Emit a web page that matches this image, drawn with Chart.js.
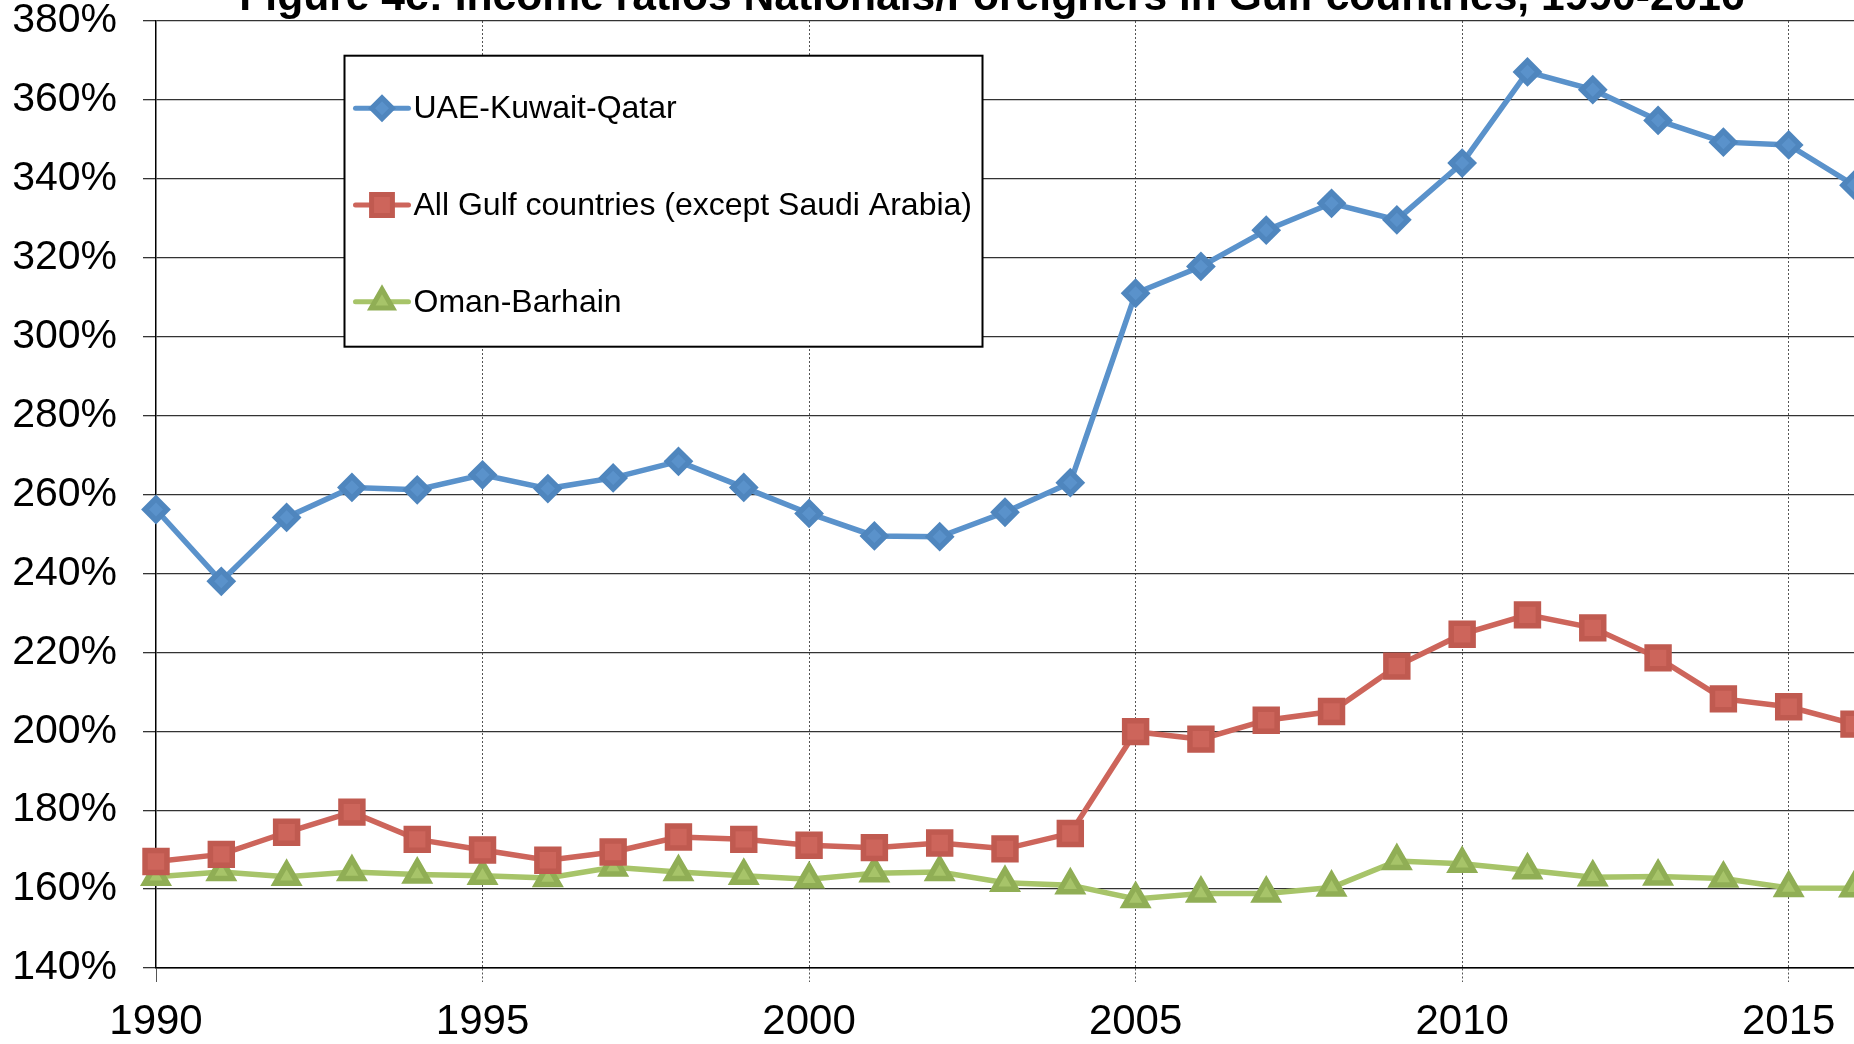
<!DOCTYPE html>
<html>
<head>
<meta charset="utf-8">
<script src="https://cdn.jsdelivr.net/npm/chart.js@4.4.0/dist/chart.umd.min.js"></script>
<style>
  html, body { margin: 0; padding: 0; background: #fff; overflow: hidden; }
  #chart { display: block; }
</style>
</head>
<body>
<canvas id="chart" width="1854" height="1044"></canvas>
<script>
// Data
const years = ['1990', '1991', '1992', '1993', '1994', '1995', '1996', '1997', '1998', '1999',
  '2000', '2001', '2002', '2003', '2004', '2005', '2006', '2007', '2008', '2009',
  '2010', '2011', '2012', '2013', '2014', '2015', '2016'];
const uaeKuwaitQatar = [256.2, 238.0, 254.2, 261.8, 261.2, 265.0, 261.5, 264.2, 268.4, 261.8,
  255.2, 249.5, 249.3, 255.5, 263.0, 311.0, 317.8, 327.0, 333.8, 329.6,
  344.0, 367.1, 362.6, 354.8, 349.3, 348.6, 338.4];
const allGulf = [167.0, 168.8, 174.4, 179.5, 172.6, 169.9, 167.3, 169.4, 173.2, 172.6,
  171.1, 170.5, 171.7, 170.2, 174.1, 199.9, 198.0, 202.8, 205.0, 216.5,
  224.6, 229.5, 226.2, 218.6, 208.2, 206.2, 201.8];
const omanBahrain = [163.1, 164.3, 163.1, 164.3, 163.7, 163.4, 162.8, 165.5, 164.3, 163.4,
  162.5, 164.0, 164.3, 161.6, 161.0, 157.5, 158.9, 158.9, 160.4, 167.1,
  166.4, 164.8, 163.0, 163.2, 162.7, 160.3, 160.2];
const yTicks = { min: 140, max: 380, step: 20 };
const titleText = 'Figure 4c: Income ratios Nationals/Foreigners in Gulf countries, 1990-2016';

const FONT = '"Liberation Sans", Arial, sans-serif';

// title (cut off at the top like the original) + boxed legend inside the plot
const boxLegend = {
  id: 'boxLegend',
  afterDraw(chart) {
    const ctx = chart.ctx;
    const a = chart.chartArea;
    ctx.save();
    ctx.fillStyle = '#000';
    ctx.font = 'bold 42.6px ' + FONT;
    ctx.textAlign = 'center';
    ctx.textBaseline = 'alphabetic';
    ctx.fillText(titleText, 992, 10);

    const x = a.left + 188.5, y = a.top + 34.7, w = 638, h = 291;
    ctx.fillStyle = '#fff';
    ctx.fillRect(x, y, w, h);
    ctx.lineWidth = 2;
    ctx.strokeStyle = '#000';
    ctx.strokeRect(x, y, w, h);

    chart.data.datasets.forEach((ds, i) => {
      const cy = y + 52.6 + i * 96.7;
      ctx.strokeStyle = ds.borderColor;
      ctx.lineWidth = 5;
      ctx.lineCap = 'round';
      ctx.beginPath();
      ctx.moveTo(x + 11, cy);
      ctx.lineTo(x + 64, cy);
      ctx.stroke();
      ctx.fillStyle = ds.pointBackgroundColor;
      ctx.strokeStyle = ds.pointBorderColor;
      Chart.helpers.drawPoint(ctx, {
        pointStyle: ds.pointStyle, radius: ds.pointRadius * 0.95, borderWidth: 1, rotation: 0
      }, x + 37.5, cy);
      ctx.fillStyle = '#000';
      ctx.font = '32px ' + FONT;
      ctx.textAlign = 'left';
      ctx.textBaseline = 'middle';
      ctx.fillText(ds.label, x + 69, cy + 1);
    });
    ctx.restore();
  }
};

const isFive = i => Number(years[i]) % 5 === 0;

new Chart(document.getElementById('chart'), {
  type: 'line',
  data: {
    labels: years,
    datasets: [{
      label: 'UAE-Kuwait-Qatar',
      data: uaeKuwaitQatar,
      borderColor: '#5A92CB',
      backgroundColor: '#5A92CB',
      pointBackgroundColor: '#5A92CB',
      pointBorderColor: '#4F86BE',
      pointStyle: 'rectRot',
      pointRadius: 11,
      borderWidth: 5.5,
    }, {
      label: 'All Gulf countries (except Saudi Arabia)',
      data: allGulf,
      borderColor: '#CD655B',
      backgroundColor: '#CD655B',
      pointBackgroundColor: '#CD655B',
      pointBorderColor: '#C05A50',
      pointStyle: 'rect',
      pointRadius: 15.5,
      borderWidth: 5.5,
    }, {
      label: 'Oman-Barhain',
      data: omanBahrain,
      borderColor: '#A7C469',
      backgroundColor: '#A7C469',
      pointBackgroundColor: '#A7C469',
      pointBorderColor: '#90AE55',
      pointStyle: 'triangle',
      pointRadius: 13,
      borderWidth: 5.5,
    }],
  },
  options: {
    responsive: false,
    animation: false,
    layout: { autoPadding: false, padding: { top: 21, right: 0, left: 0, bottom: 0 } },
    plugins: {
      legend: { display: false },
      title: { display: false },
      tooltip: { enabled: false },
    },
    elements: { line: { tension: 0 } },
    scales: {
      x: {
        type: 'category',
        offset: false,
        afterFit: s => { s.height = 76; s.paddingLeft = 0; s.paddingRight = 0; },
        grid: {
          color: c => (c.index > 0 && isFive(c.index)) ? '#555' : 'rgba(0,0,0,0)',
          lineWidth: 1,
          tickLength: 14,
          tickColor: c => isFive(c.index) ? '#555' : 'rgba(0,0,0,0)',
          tickBorderDash: c => c.index > 0 ? [2, 2] : [],
        },
        border: { display: true, color: '#000', width: 1.5, dash: [2, 2] },
        ticks: {
          autoSkip: false,
          maxRotation: 0,
          padding: 15,
          color: '#000',
          font: { family: FONT, size: 42 },
          callback: (v, i) => isFive(i) ? years[i] : '',
        },
      },
      y: {
        min: yTicks.min,
        max: yTicks.max,
        afterFit: s => { s.width = 156; s.paddingTop = 0; s.paddingBottom = 0; },
        grid: { color: '#333', lineWidth: 1.3, tickLength: 13, tickColor: '#333' },
        border: { display: true, color: '#000', width: 1.5 },
        ticks: {
          stepSize: yTicks.step,
          padding: 26,
          color: '#000',
          font: { family: FONT, size: 41, lineHeight: 1 },
          callback: v => v + '%',
        },
      },
    },
  },
  plugins: [boxLegend],
});
</script>
</body>
</html>
